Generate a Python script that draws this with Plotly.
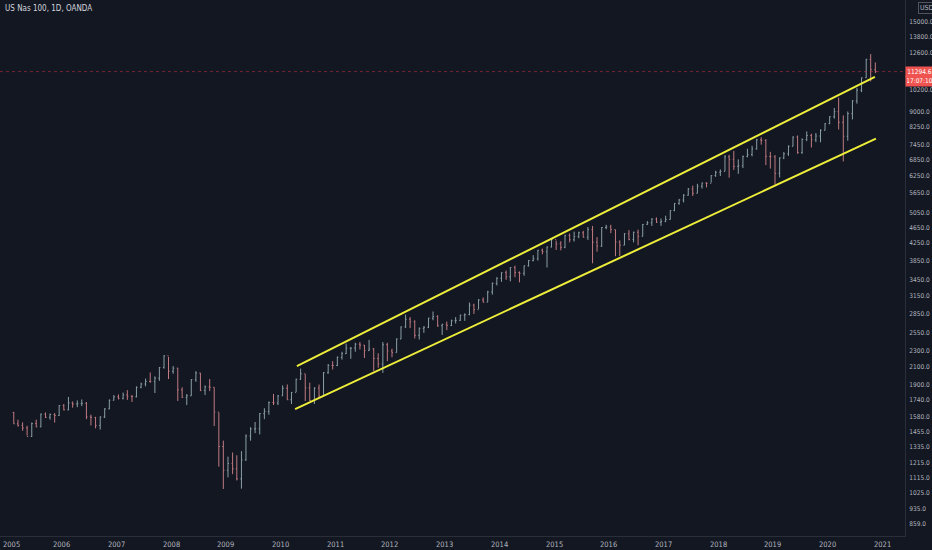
import math
import plotly.graph_objects as go
import pandas as pd

# Monthly bars (US Nas 100, OANDA), Jan 2005 .. Oct 2020
start_month = "2005-01-15"
first_open = 1621
closes = [
    1519, 1505, 1483, 1413, 1521, 1493, 1605, 1576, 1601, 1593, 1685, 1645,   # 2005
    1711, 1700, 1703, 1707, 1580, 1575, 1505, 1579, 1654, 1737, 1771, 1756,   # 2006
    1790, 1777, 1772, 1870, 1906, 1934, 1932, 1970, 2092, 2238, 2049, 2085,   # 2007
    1842, 1766, 1781, 1953, 2028, 1837, 1874, 1871, 1624, 1335, 1166, 1212,   # 2008
    1175, 1110, 1237, 1417, 1475, 1477, 1610, 1630, 1715, 1711, 1781, 1860,   # 2009
    1742, 1817, 1957, 2020, 1865, 1734, 1862, 1779, 2032, 2119, 2117, 2218,   # 2010
    2265, 2336, 2338, 2390, 2378, 2305, 2328, 2203, 2136, 2383, 2300, 2278,   # 2011
    2462, 2638, 2755, 2716, 2515, 2616, 2632, 2772, 2799, 2655, 2678, 2660,   # 2012
    2732, 2738, 2818, 2828, 2986, 2910, 3076, 3036, 3219, 3379, 3481, 3592,   # 2013
    3509, 3701, 3596, 3580, 3736, 3850, 3889, 4082, 4049, 4158, 4337, 4236,   # 2014
    4151, 4444, 4334, 4414, 4509, 4397, 4589, 4274, 4181, 4648, 4664, 4593,   # 2015
    4279, 4202, 4483, 4341, 4523, 4418, 4730, 4771, 4875, 4789, 4810, 4863,   # 2016
    5117, 5330, 5436, 5584, 5788, 5647, 5880, 5988, 5979, 6248, 6365, 6396,   # 2017
    6949, 6854, 6581, 6606, 6967, 7040, 7272, 7658, 7627, 6967, 6949, 6330,   # 2018
    6907, 7069, 7378, 7781, 7127, 7672, 7849, 7657, 7825, 8084, 8398, 8733,   # 2019
    8992, 8462, 7813, 8890, 9556, 10157, 10905, 12110, 11418, 11294.6,       # 2020
]
highs = [
    1625, 1555, 1532, 1502, 1530, 1555, 1610, 1620, 1611, 1615, 1690, 1700,
    1770, 1725, 1735, 1745, 1720, 1600, 1580, 1585, 1660, 1745, 1790, 1795,
    1815, 1840, 1790, 1880, 1920, 1965, 2035, 1990, 2100, 2245, 2225, 2110,
    2090, 1870, 1800, 1960, 2050, 2030, 1890, 1960, 1870, 1620, 1380, 1260,
    1290, 1270, 1300, 1430, 1490, 1535, 1615, 1660, 1725, 1800, 1790, 1890,
    1900, 1820, 1965, 2080, 2015, 1920, 1870, 1900, 2040, 2135, 2170, 2230,
    2290, 2400, 2350, 2410, 2420, 2380, 2450, 2340, 2270, 2420, 2410, 2330,
    2470, 2645, 2830, 2790, 2740, 2630, 2650, 2780, 2880, 2820, 2685, 2720,
    2750, 2790, 2830, 2850, 3030, 3010, 3090, 3120, 3240, 3400, 3500, 3600,
    3640, 3710, 3740, 3620, 3740, 3860, 3970, 4090, 4120, 4170, 4360, 4310,
    4300, 4460, 4490, 4540, 4540, 4560, 4660, 4690, 4400, 4660, 4720, 4720,
    4590, 4320, 4500, 4580, 4540, 4590, 4740, 4820, 4900, 4920, 4890, 4970,
    5130, 5340, 5470, 5620, 5820, 5900, 5960, 6000, 6010, 6260, 6420, 6470,
    7020, 7030, 7190, 6850, 7000, 7280, 7400, 7700, 7770, 7690, 7150, 7020,
    6930, 7140, 7420, 7810, 7850, 7720, 8030, 7930, 7960, 8130, 8420, 8760,
    9180, 9740, 8800, 9000, 9600, 10300, 10920, 12150, 12480, 11900,
]
lows = [
    1519, 1495, 1460, 1420, 1410, 1490, 1490, 1570, 1555, 1530, 1589, 1640,
    1640, 1665, 1670, 1680, 1560, 1505, 1480, 1470, 1570, 1650, 1735, 1745,
    1745, 1740, 1720, 1765, 1860, 1880, 1920, 1810, 1940, 2080, 1960, 2020,
    1730, 1760, 1690, 1780, 1930, 1830, 1790, 1830, 1500, 1190, 1048, 1120,
    1140, 1100, 1050, 1230, 1380, 1440, 1430, 1560, 1600, 1690, 1690, 1780,
    1740, 1700, 1820, 1950, 1730, 1730, 1700, 1765, 1780, 2020, 2070, 2110,
    2190, 2260, 2200, 2290, 2320, 2210, 2300, 2050, 2090, 2030, 2170, 2220,
    2280, 2460, 2620, 2620, 2470, 2455, 2550, 2620, 2740, 2640, 2520, 2590,
    2650, 2690, 2730, 2730, 2820, 2840, 2920, 3030, 3040, 3170, 3340, 3410,
    3450, 3420, 3500, 3400, 3530, 3720, 3830, 3850, 3990, 3700, 4150, 4090,
    4080, 4130, 4270, 4290, 4370, 4390, 4330, 3790, 4050, 4160, 4600, 4500,
    3945, 3950, 4200, 4320, 4270, 4200, 4420, 4720, 4690, 4770, 4690, 4790,
    4860, 5100, 5290, 5360, 5570, 5560, 5650, 5800, 5840, 6000, 6200, 6230,
    6400, 6170, 6450, 6310, 6520, 6930, 6970, 7240, 7450, 6630, 6500, 5935,
    6180, 6860, 6990, 7380, 7070, 7070, 7600, 7330, 7560, 7550, 8080, 8370,
    8640, 8120, 6770, 7620, 8600, 9410, 10050, 10900, 10680, 11200,
]
last_price = 11294.6
countdown = "17:07:10"

# Channel drawn on the chart (start / end)
upper_dates = ["2010-04-20", "2020-11-12"]
upper_vals = [2110, 10960]
lower_dates = ["2010-04-08", "2020-11-19"]
lower_vals = [1652, 7710]

price_ticks = [859, 935, 1025, 1115, 1215, 1335, 1455, 1580, 1740, 1900, 2100, 2300,
               2550, 2850, 3150, 3450, 3850, 4250, 4650, 5050, 5650, 6250, 6850,
               7450, 8250, 9000, 10200, 12600, 13800, 15000]
year_ticks = [str(y) for y in range(2005, 2022)]

dates = pd.date_range(start_month, periods=len(closes), freq="MS") + pd.Timedelta(days=14)
opens = [first_open] + closes[:-1]

BG = "#131722"
TXT = "#b2b5be"
FONT = "Liberation Sans Narrow, DejaVu Sans Condensed, Roboto, sans-serif"

fig = go.Figure()
fig.add_trace(go.Ohlc(
    x=dates, open=opens, high=highs, low=lows, close=closes,
    increasing=dict(line=dict(color="#8a9fa6", width=1)),
    decreasing=dict(line=dict(color="#c07a80", width=1)),
    tickwidth=0.25, showlegend=False, hoverinfo="skip",
))
fig.add_trace(go.Scatter(x=upper_dates, y=upper_vals, mode="lines",
                         line=dict(color="#eeee3a", width=2), showlegend=False, hoverinfo="skip"))
fig.add_trace(go.Scatter(x=lower_dates, y=lower_vals, mode="lines",
                         line=dict(color="#eeee3a", width=2), showlegend=False, hoverinfo="skip"))
fig.add_trace(go.Scatter(x=["2004-11-15", "2021-06-01"], y=[last_price, last_price], mode="lines",
                         line=dict(color="rgba(242,54,69,0.45)", width=1, dash="dot"),
                         showlegend=False, hoverinfo="skip"))

annotations = [
    dict(text="US Nas 100, 1D, OANDA", xref="paper", yref="paper", x=0.003, y=0.985,
         xanchor="left", yanchor="middle", showarrow=False,
         font=dict(family=FONT, size=8, color="#d1d4dc")),
    dict(text="USD", xref="paper", yref="paper", x=1.014, y=0.985,
         xanchor="left", yanchor="middle", showarrow=False,
         font=dict(family=FONT, size=7, color=TXT), bordercolor="#50535e",
         borderwidth=1, borderpad=1),
    dict(text=f"{last_price:.1f}", xref="paper", yref="y", x=1.0, y=math.log10(last_price),
         xanchor="left", yanchor="middle", showarrow=False, bgcolor="#ef5350",
         font=dict(family=FONT, size=6.5, color="#ffffff"), borderpad=1, width=25),
    dict(text=countdown, xref="paper", yref="y", x=1.0, y=math.log10(last_price),
         xanchor="left", yanchor="middle", yshift=-9, showarrow=False, bgcolor="#ef5350",
         font=dict(family=FONT, size=6.5, color="#ffffff"), borderpad=1, width=25),
]
# year labels along the time scale
for i, yr in enumerate(year_ticks):
    annotations.append(dict(text=yr, xref="x", yref="paper", x=f"{yr}-01-01", y=0,
                            xanchor="left" if i == 0 else "center", xshift=-6 if i == 0 else 0,
                            yanchor="top", yshift=-2, showarrow=False,
                            font=dict(family=FONT, size=7.5, color=TXT)))

fig.update_layout(
    width=932, height=550,
    margin=dict(l=0, r=27, t=0, b=14, autoexpand=False),
    paper_bgcolor=BG, plot_bgcolor=BG,
    font=dict(family=FONT, size=8, color=TXT),
    xaxis=dict(type="date", range=["2004-11-15", "2021-06-01"], automargin=False,
               showticklabels=False,
               showgrid=False, zeroline=False, rangeslider=dict(visible=False),
               showline=True, linecolor="#2a2e39", linewidth=1, ticks=""),
    yaxis=dict(type="log", side="right", range=[2.904, 4.230], automargin=False,
               tickvals=price_ticks, ticktext=[f"{v:.1f}" for v in price_ticks],
               showgrid=False, zeroline=False, showline=True, linecolor="#2a2e39",
               linewidth=1, ticks="", ticklabelstandoff=2,
               tickfont=dict(family=FONT, size=6.5, color=TXT)),
    annotations=annotations,
)
fig.write_html("out.html", config={"displayModeBar": False},
               post_script="document.body.style.margin='0';document.body.style.background='#131722';")
